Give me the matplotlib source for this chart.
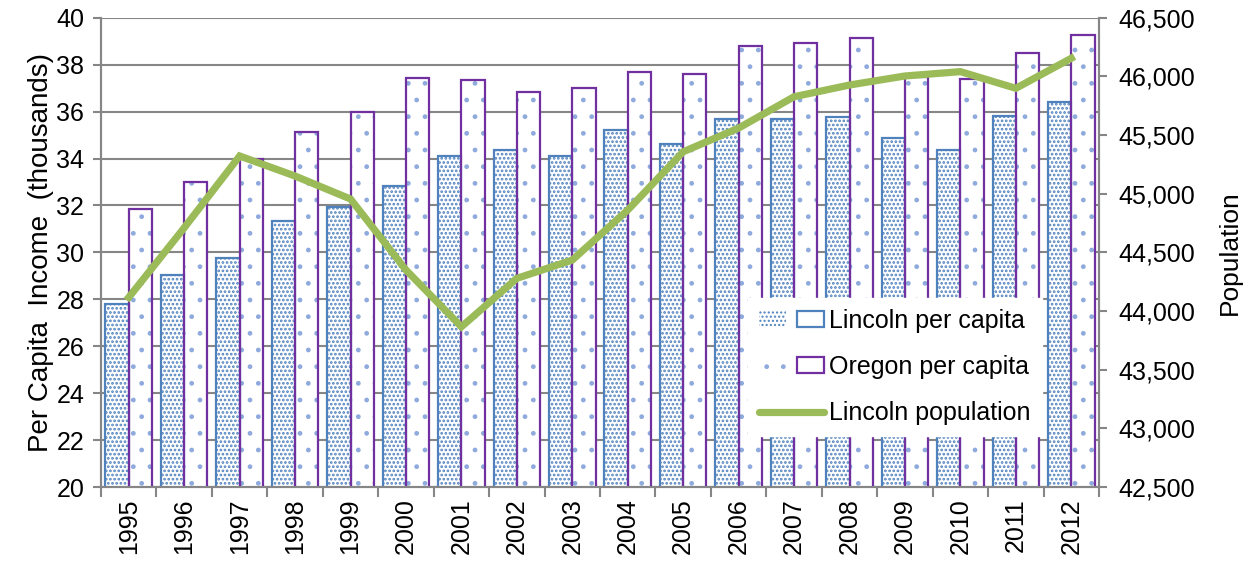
"""
Lincoln County vs. Oregon per capita income, with Lincoln population
on a secondary axis.  Writes out.png.
"""

import numpy as np
import matplotlib

matplotlib.use("Agg")
import matplotlib.pyplot as plt  # noqa: E402
from matplotlib.patches import Patch  # noqa: E402
from matplotlib.lines import Line2D  # noqa: E402
from matplotlib.legend_handler import HandlerTuple  # noqa: E402

YEARS = [str(y) for y in range(1995, 2013)]

LINCOLN_PER_CAPITA = [27.80, 29.05, 29.75, 31.35, 31.95, 32.84, 34.12, 34.36, 34.12,
                      35.22, 34.63, 35.67, 35.67, 35.76, 34.89, 34.36, 35.83, 36.42]
OREGON_PER_CAPITA = [31.85, 33.00, 33.97, 35.15, 36.00, 37.45, 37.35, 36.84, 37.00,
                     37.70, 37.62, 38.81, 38.91, 39.15, 37.49, 37.38, 38.49, 39.25]
LINCOLN_POPULATION = [44117, 44710, 45322, 45151, 44955, 44350, 43866, 44279, 44435,
                      44861, 45358, 45560, 45827, 45927, 46004, 46041, 45899, 46155]

BLUE = "#4F81BD"
DOT = "#4F81BD"
PURPLE = "#7030A0"
GREEN = "#9BBB59"
GRID = "#868686"
FS = 18

plt.rcParams["font.family"] = ["Liberation Sans", "DejaVu Sans"]

fig = plt.figure(figsize=(12.52, 5.65), dpi=100)
ax = fig.add_axes([0.0807, 0.138, 0.7971, 0.8305])
ax2 = ax.twinx()

x = np.arange(len(YEARS))
w = 0.42

# Lincoln: dense dotted fill
with plt.rc_context({"hatch.linewidth": 1.3}):
    ax.bar(x - w / 2, LINCOLN_PER_CAPITA, w, color="white",
           edgecolor=DOT, hatch="....", linewidth=0, zorder=2)
    h_lin_fill = Patch(facecolor="white", edgecolor=DOT, hatch="....", linewidth=0)
ax.bar(x - w / 2, LINCOLN_PER_CAPITA, w, fill=False,
       edgecolor=BLUE, linewidth=1.6, zorder=3)

# Oregon: sparse light dots, then purple outline on top
with plt.rc_context({"hatch.linewidth": 1.0}):
    ax.bar(x + w / 2, OREGON_PER_CAPITA, w, color="white",
           edgecolor="#8FAADC", hatch=".", linewidth=0, zorder=2)
    h_ore_fill = Patch(facecolor="white", edgecolor="#8FAADC", hatch=".", linewidth=0)
ax.bar(x + w / 2, OREGON_PER_CAPITA, w, fill=False,
       edgecolor=PURPLE, linewidth=1.6, zorder=3)

ax2.plot(x, LINCOLN_POPULATION, color=GREEN, linewidth=5.2,
         solid_joinstyle="miter", zorder=4)

ax.set_xlim(-0.5, len(YEARS) - 0.5)
ax.set_ylim(20, 40)
ax.set_yticks(np.arange(20, 41, 2))
ax2.set_ylim(42500, 46500)
ax2.set_yticks(np.arange(42500, 46501, 500))
ax2.set_yticklabels([f"{v:,}" for v in range(42500, 46501, 500)])

ax.set_xticks(x)
ax.set_xticklabels(YEARS, rotation=90, fontsize=FS)
ax.set_xticks(np.arange(-0.5, len(YEARS), 1), minor=True)
ax.tick_params(axis="x", which="major", length=0, pad=8)
ax.tick_params(axis="x", which="minor", length=7, width=1.5, color=GRID)
ax.tick_params(axis="y", length=6, width=1.5, color=GRID, labelsize=FS, pad=6)
ax2.tick_params(axis="y", length=6, width=1.5, color=GRID, labelsize=FS, pad=8)

ax.yaxis.grid(True, color=GRID, linewidth=1.5)
ax.set_axisbelow(True)

for a in (ax, ax2):
    a.spines["top"].set_visible(False)
    for s in ("left", "right", "bottom"):
        a.spines[s].set_color(GRID)
        a.spines[s].set_linewidth(1.5)

ax.set_ylabel("Per Capita  Income  (thousands)", fontsize=20, labelpad=2)
ax2.set_ylabel("Population", fontsize=19, labelpad=16)

h_lin = (h_lin_fill, Patch(fill=False, edgecolor=BLUE, linewidth=1.6))
h_ore = (h_ore_fill, Patch(fill=False, edgecolor=PURPLE, linewidth=1.6))
h_pop = Line2D([], [], color=GREEN, linewidth=5.2, solid_capstyle="round")
leg = ax2.legend([h_lin, h_ore, h_pop],
                 ["Lincoln per capita", "Oregon per capita", "Lincoln population"],
                 handler_map={tuple: HandlerTuple(ndivide=None)},
                 loc="upper left", bbox_to_anchor=(0.648, 0.403),
                 fontsize=FS, frameon=True, fancybox=False, framealpha=1,
                 edgecolor="white", handlelength=2.6, handleheight=0.6,
                 handletextpad=0.2, labelspacing=0.88, borderpad=0.45,
                 borderaxespad=0)
leg.set_zorder(10)

fig.savefig("out.png", dpi=100)
